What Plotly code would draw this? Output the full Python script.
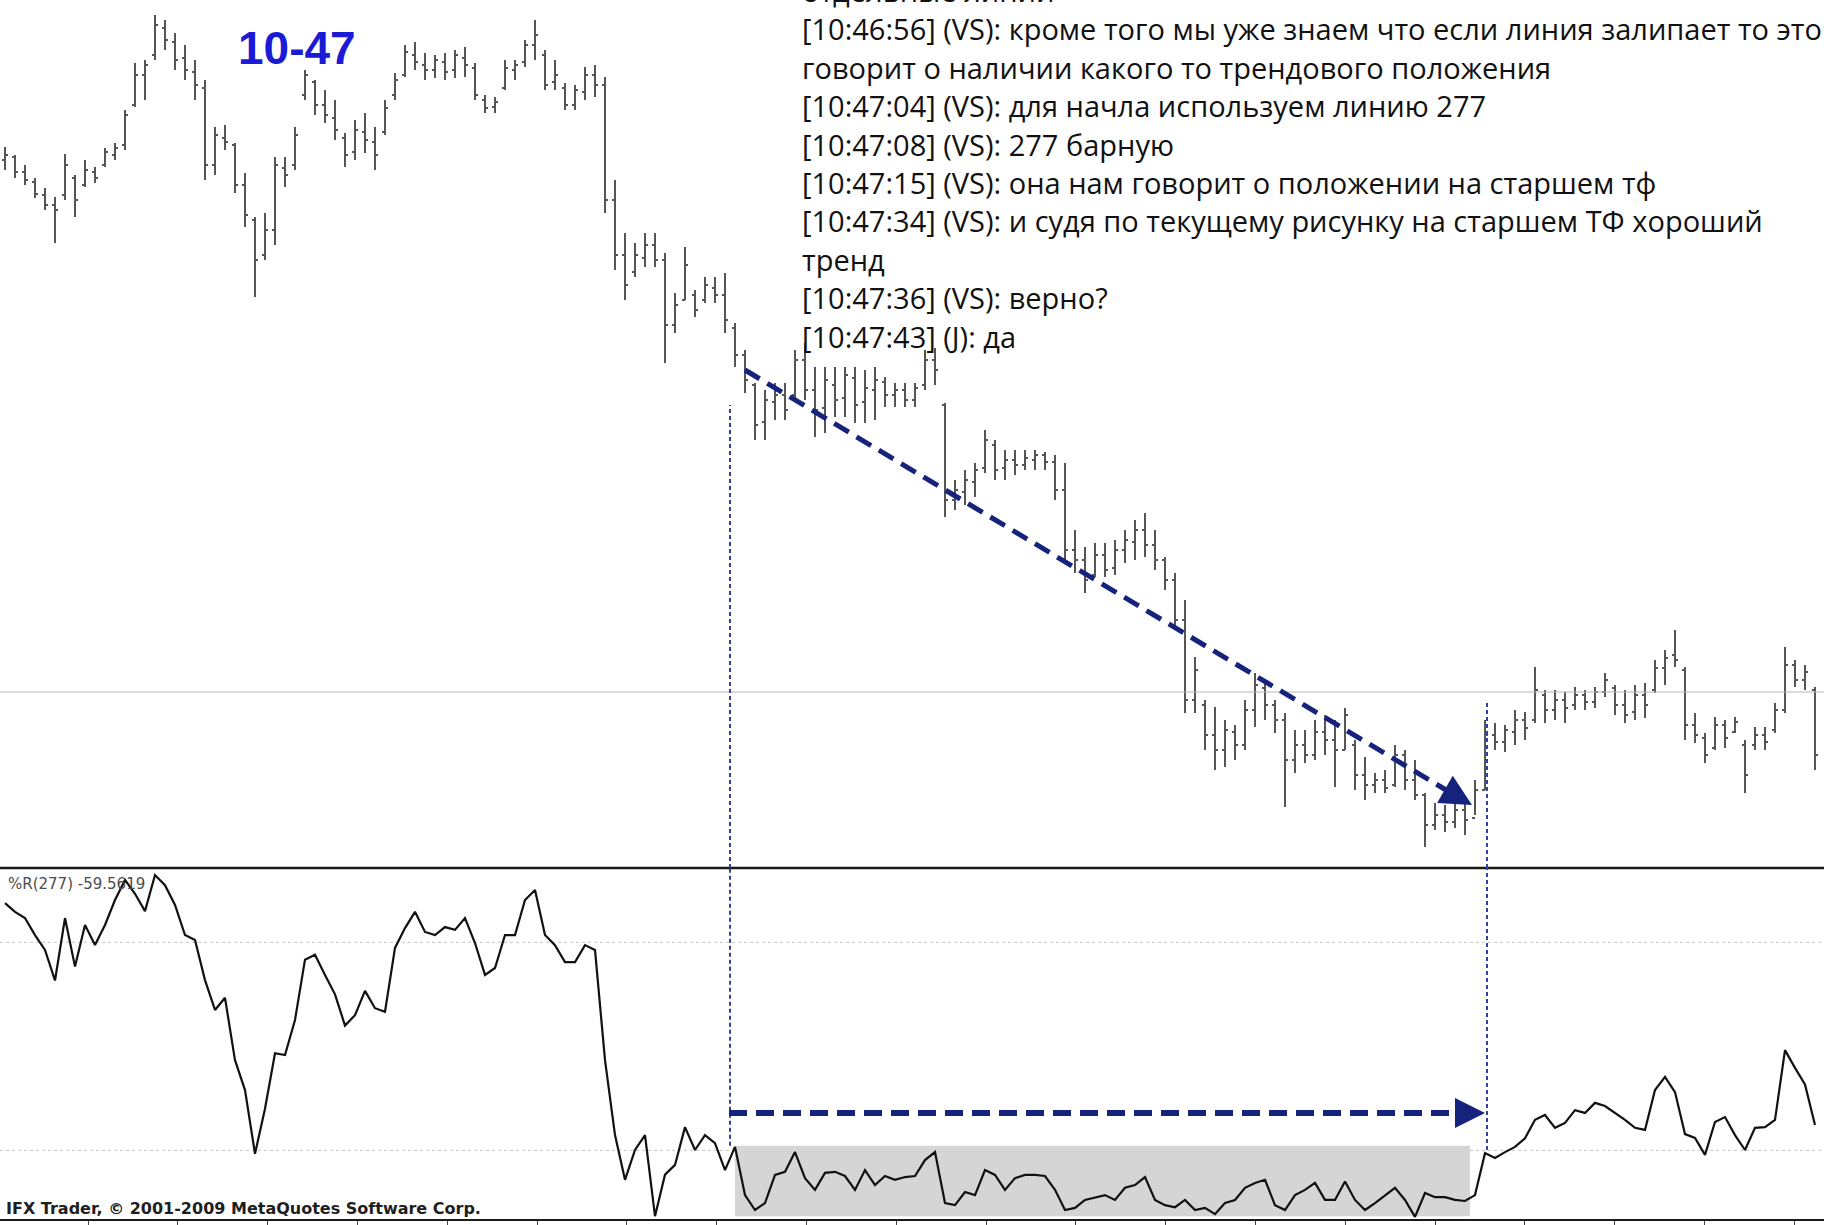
import plotly.graph_objects as go

# price bars (price in chart points, higher = up)
PRICE_OPEN = [
    840, 843, 828, 818, 805, 795, 805, 822, 815, 828,
    835, 845, 855, 895, 925, 945, 972, 958, 942, 928,
    912, 835, 862, 855, 815, 780, 745, 770, 832, 835,
    905, 918, 895, 882, 862, 848, 868, 858, 868, 905,
    925, 945, 935, 930, 938, 930, 942, 932, 900, 893,
    912, 930, 938, 955, 945, 918, 912, 895, 908, 925,
    915, 800, 745, 728, 742, 755, 740, 675, 700, 705,
    700, 712, 705, 672, 645, 615, 578, 598, 605, 605,
    640, 610, 592, 615, 602, 622, 598, 610, 618, 605,
    610, 600, 615, 640, 595, 500, 508, 518, 532, 555,
    532, 540, 535, 540, 545, 538, 510, 450, 440, 425,
    445, 432, 450, 458, 470, 455, 440, 420, 380, 300,
    295, 265, 250, 268, 255, 290, 312, 295, 280, 240,
    255, 245, 268, 260, 250, 255, 225, 215, 220, 215,
    245, 220, 205, 175, 185, 178, 190, 182, 210, 265,
    258, 268, 280, 280, 305, 290, 300, 295, 305, 298,
    308, 312, 295, 288, 305, 310, 332, 345, 330, 275,
    262, 252, 275, 268, 255, 255, 265, 270, 290, 335,
    320, 310,
]
PRICE_HIGH = [
    853, 845, 835, 822, 812, 803, 846, 825, 840, 833,
    852, 857, 890, 937, 940, 985, 980, 967, 955, 940,
    920, 873, 875, 857, 827, 783, 787, 843, 843, 873,
    930, 920, 910, 900, 867, 880, 887, 873, 900, 927,
    955, 958, 947, 945, 947, 950, 953, 937, 905, 903,
    940, 940, 960, 980, 950, 940, 917, 915, 933, 935,
    923, 820, 767, 757, 767, 767, 747, 707, 753, 710,
    723, 723, 727, 677, 650, 617, 610, 617, 617, 650,
    657, 633, 633, 633, 633, 633, 630, 633, 623, 617,
    617, 617, 650, 652, 597, 520, 530, 537, 570, 560,
    550, 550, 550, 550, 548, 545, 537, 470, 453, 457,
    457, 460, 470, 480, 487, 470, 443, 427, 400, 343,
    300, 293, 280, 275, 300, 327, 320, 300, 287, 270,
    270, 280, 285, 280, 292, 260, 243, 227, 230, 255,
    250, 240, 207, 197, 195, 197, 197, 220, 280, 277,
    275, 290, 288, 333, 310, 310, 308, 313, 310, 313,
    327, 315, 310, 315, 317, 340, 350, 370, 333, 287,
    267, 283, 280, 283, 260, 273, 273, 297, 353, 340,
    335, 313,
]
PRICE_LOW = [
    830, 822, 815, 802, 790, 757, 800, 783, 813, 817,
    833, 840, 850, 893, 900, 940, 950, 930, 920, 900,
    820, 825, 850, 807, 773, 703, 740, 755, 813, 830,
    900, 885, 877, 860, 833, 840, 847, 830, 865, 900,
    923, 930, 920, 922, 920, 922, 923, 900, 887, 887,
    910, 920, 933, 940, 910, 910, 890, 890, 900, 903,
    787, 730, 700, 723, 733, 733, 637, 667, 700, 683,
    697, 697, 667, 633, 607, 560, 560, 580, 580, 600,
    600, 563, 567, 583, 583, 577, 577, 580, 593, 593,
    593, 593, 610, 615, 483, 490, 495, 503, 527, 520,
    520, 525, 530, 530, 530, 500, 437, 427, 407, 423,
    423, 425, 437, 440, 443, 430, 410, 370, 287, 287,
    250, 230, 233, 240, 250, 273, 280, 267, 193, 227,
    237, 240, 245, 213, 250, 210, 200, 207, 207, 213,
    210, 200, 153, 170, 168, 172, 165, 185, 210, 250,
    248, 255, 260, 277, 277, 280, 277, 290, 290, 292,
    303, 285, 277, 280, 282, 307, 315, 333, 260, 257,
    237, 250, 252, 267, 207, 250, 250, 267, 287, 313,
    310, 230,
]
PRICE_CLOSE = [
    845, 828, 820, 806, 795, 790, 835, 800, 830, 822,
    848, 852, 885, 925, 935, 975, 960, 940, 930, 915,
    835, 865, 858, 815, 785, 740, 770, 835, 825, 865,
    925, 895, 885, 870, 845, 870, 860, 845, 892, 920,
    948, 938, 930, 940, 928, 945, 935, 905, 892, 898,
    932, 935, 955, 965, 915, 925, 895, 910, 925, 915,
    800, 745, 715, 745, 755, 740, 675, 695, 735, 690,
    715, 705, 680, 645, 620, 575, 600, 605, 590, 640,
    610, 590, 620, 600, 625, 595, 612, 620, 605, 610,
    600, 612, 640, 630, 500, 510, 520, 530, 560, 530,
    540, 535, 542, 545, 538, 510, 450, 440, 420, 445,
    430, 450, 460, 470, 455, 440, 420, 380, 300, 330,
    265, 250, 270, 255, 290, 315, 295, 280, 240, 255,
    245, 268, 260, 250, 285, 225, 215, 220, 212, 245,
    220, 205, 175, 185, 178, 190, 180, 210, 265, 258,
    270, 280, 272, 310, 290, 300, 292, 305, 298, 308,
    320, 295, 285, 305, 295, 332, 342, 340, 275, 265,
    245, 275, 262, 278, 225, 265, 258, 290, 335, 320,
    328, 245,
]
# Williams %R(277)
WPR_277 = [
    -8.7, -11.2, -13, -17.9, -22.2, -31, -13, -27, -15, -20.8,
    -15, -7.8, -2, -6, -11, -0.6, -3.5, -9.2, -17.9, -19.3,
    -30.9, -39.5, -36, -54, -62.6, -81, -68, -52, -52.5, -42.4,
    -25, -23.6, -29.4, -35, -44, -41, -34, -39, -40, -21.6,
    -15.9, -11.2, -17, -17.9, -15.6, -16.4, -13, -20.2, -29.4, -27.4,
    -17.9, -17.9, -7.8, -4.9, -17.9, -20.8, -25.7, -25.7, -20.8, -22.2,
    -54, -75.6, -88.5, -79.9, -75.6, -99, -87, -84.2, -73.3, -79.9,
    -75.6, -77.9, -85.7, -79, -92.9, -97.2, -95.2, -87.1, -86.2, -80.5,
    -88, -91.4, -86.5, -86.2, -87.4, -91.4, -85.7, -90, -87.4, -88.5,
    -87.7, -87.4, -82.8, -80.5, -95.2, -95.8, -92, -92.9, -85.7, -87.1,
    -91.4, -88, -87.1, -87.1, -87.4, -91.4, -97.2, -96.6, -94.3, -93.5,
    -92.9, -94.3, -90.8, -90, -87.7, -94.3, -95.8, -96.4, -94.3, -97.2,
    -96.6, -98.4, -95.2, -94.3, -90.8, -89.4, -88.5, -95.8, -97.2, -92.9,
    -91.4, -89.4, -94.3, -94.3, -89, -94.3, -97.2, -95.2, -92.9, -90.8,
    -94.3, -99.2, -92.3, -93.5, -93.5, -94.3, -94.6, -92.9, -80.8, -82.2,
    -80.5, -79, -76.5, -71.2, -69.8, -73.5, -72.1, -68.4, -69.2, -66.3,
    -67.2, -69.2, -71.2, -73.5, -74.1, -62.6, -58.8, -63.2, -75.3, -76.4,
    -81.3, -71.8, -70.4, -75.6, -79.9, -73.5, -73.3, -71.2, -51.1, -56.2,
    -61, -72.7,
]
BARS = list(range(len(PRICE_CLOSE)))

LEVEL_PRICE = 308
WPR_LEVELS = [-20, -80]

CHAT_LINES = [
    "отдельные линии",
    "[10:46:56] (VS): кроме того мы уже знаем что если линия залипает то это",
    "говорит о наличии какого то трендового положения",
    "[10:47:04] (VS): для начла используем линию 277",
    "[10:47:08] (VS): 277 барную",
    "[10:47:15] (VS): она нам говорит о положении на старшем тф",
    "[10:47:34] (VS): и судя по текущему рисунку на старшем ТФ хороший",
    "тренд",
    "[10:47:36] (VS): верно?",
    "[10:47:43] (J): да",
]

W, H = 1824, 1225
PRICE_BOTTOM = 1 - 868 / H
WPR_BOTTOM = 1 - 1219 / H
NAVY = "#16237c"
DOTTED = "#3341a0"
BAR_GRAY = "#555555"

fig = go.Figure()
fig.add_trace(go.Ohlc(
    x=BARS, open=PRICE_OPEN, high=PRICE_HIGH, low=PRICE_LOW, close=PRICE_CLOSE,
    increasing=dict(line=dict(color=BAR_GRAY)),
    decreasing=dict(line=dict(color=BAR_GRAY)),
    line=dict(width=2), tickwidth=0.3, hoverinfo="skip",
))
fig.add_trace(go.Scatter(
    x=BARS, y=WPR_277, yaxis="y2", mode="lines",
    line=dict(color="#111111", width=2.2), hoverinfo="skip",
))

shapes = [
    # gray price level
    dict(type="line", xref="paper", yref="y", x0=0, x1=1, y0=LEVEL_PRICE, y1=LEVEL_PRICE,
         line=dict(color="#b4b4b4", width=1)),
    # flat zone of %R
    dict(type="rect", xref="x", yref="y2", x0=73, x1=146.5, y0=-99, y1=-78.7,
         fillcolor="#d5d5d5", line_width=0, layer="below"),
    # pane separator
    dict(type="line", xref="paper", yref="paper", x0=0, x1=1, y0=PRICE_BOTTOM, y1=PRICE_BOTTOM,
         line=dict(color="#1a1a1a", width=2.5)),
    # vertical dotted markers
    dict(type="line", xref="x", yref="y", x0=72.5, x1=72.5, y0=132, y1=595,
         line=dict(color=DOTTED, width=2, dash="4px,3px")),
    dict(type="line", xref="x", yref="y2", x0=72.5, x1=72.5, y0=-78.7, y1=1.44,
         line=dict(color=DOTTED, width=2, dash="4px,3px")),
    dict(type="line", xref="x", yref="y", x0=148.2, x1=148.2, y0=132, y1=299,
         line=dict(color=DOTTED, width=2, dash="4px,3px")),
    dict(type="line", xref="x", yref="y2", x0=148.2, x1=148.2, y0=-79.9, y1=1.44,
         line=dict(color=DOTTED, width=2, dash="4px,3px")),
    # dashed arrows
    dict(type="line", xref="x", yref="y", x0=74, x1=144.1, y0=630, y1=210,
         line=dict(color=NAVY, width=5, dash="17px,9px")),
    dict(type="line", xref="x", yref="y2", x0=72.4, x1=145, y0=-69.2, y1=-69.2,
         line=dict(color=NAVY, width=6, dash="18px,9px")),
]
for lv in WPR_LEVELS:
    shapes.append(dict(type="line", xref="paper", yref="y2", x0=0, x1=1, y0=lv, y1=lv,
                       line=dict(color="#c4c4c4", width=1, dash="dot"), layer="below"))

annotations = [
    dict(x=146.7, y=195, xref="x", yref="y", ax=144.1, ay=210, axref="x", ayref="y",
         text="", showarrow=True, arrowhead=2, arrowsize=1.25, arrowwidth=5,
         arrowcolor=NAVY, standoff=0),
    dict(x=148.0, y=-69.2, xref="x", yref="y2", ax=145, ay=-69.2, axref="x", ayref="y2",
         text="", showarrow=True, arrowhead=2, arrowsize=1.0, arrowwidth=6,
         arrowcolor=NAVY, standoff=0),
    dict(x=297 / W, y=1 - 48 / H, xref="paper", yref="paper", text="<b>10-47</b>",
         showarrow=False, xanchor="center", yanchor="middle",
         font=dict(family="Liberation Sans", size=46, color="#1b1bd6")),
    dict(x=6 / W, y=1 - 884 / H, xref="paper", yref="paper", text="%R(277) -59.5619",
         showarrow=False, xanchor="left", yanchor="middle",
         font=dict(family="DejaVu Sans", size=15, color="#4d4d4d")),
    dict(x=4 / W, y=1 - 1208 / H, xref="paper", yref="paper",
         text="<b>IFX Trader, © 2001-2009 MetaQuotes Software Corp.</b>",
         showarrow=False, xanchor="left", yanchor="middle",
         font=dict(family="DejaVu Sans", size=16, color="#1e1e1e")),
]
for k, line in enumerate(CHAT_LINES):
    annotations.append(dict(
        x=800 / W, y=1 - (-9.4 + 38.4 * k) / H, xref="paper", yref="paper",
        text=line, showarrow=False, xanchor="left", yanchor="middle",
        font=dict(family="Open Sans", size=29, color="#111111"),
    ))

fig.update_layout(
    width=W, height=H, margin=dict(l=0, r=0, t=0, b=0),
    paper_bgcolor="white", plot_bgcolor="white", showlegend=False,
    xaxis=dict(domain=[0, 1], anchor="y2", range=[-0.5, 181.9], showgrid=False,
               zeroline=False, showticklabels=False, ticks="outside", ticklen=5,
               tickcolor="#444444", tick0=8.3, dtick=8.98, showline=True,
               linecolor="#1a1a1a", linewidth=2, rangeslider=dict(visible=False)),
    yaxis=dict(domain=[PRICE_BOTTOM, 1], range=[132, 1000], visible=False),
    yaxis2=dict(domain=[WPR_BOTTOM, PRICE_BOTTOM], range=[-99.8, 1.44], visible=False),
    shapes=shapes, annotations=annotations,
)

fig.write_html("out.html", config={"displayModeBar": False},
               post_script="document.body.style.margin = '0';")
